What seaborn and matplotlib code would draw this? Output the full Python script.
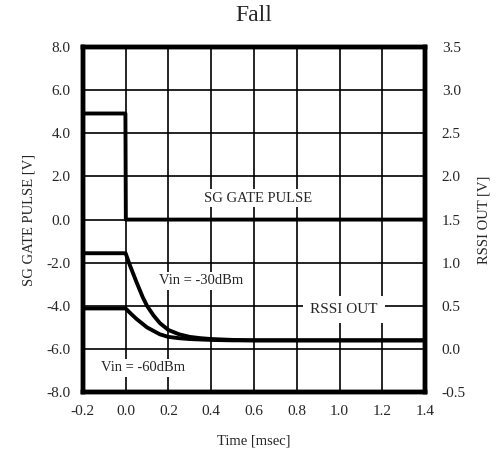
import numpy as np
import pandas as pd
import seaborn as sns
import matplotlib.pyplot as plt

# SG gate pulse (left axis, V)
gate_t = [-0.2, -0.001, 0.0, 0.001, 1.4]
gate_v = [4.92, 4.92, 2.5, 0.0, 0.0]

# RSSI out (right axis, V)
rssi_t = [-0.2, 0.0, 0.02, 0.05, 0.08, 0.1, 0.13, 0.16, 0.2, 0.25, 0.3, 0.35, 0.4, 0.5, 0.6, 0.8, 1.0, 1.2, 1.4]
rssi_30 = [1.11, 1.11, 0.97, 0.78, 0.60, 0.50, 0.39, 0.30, 0.22, 0.17, 0.14, 0.125, 0.115, 0.105, 0.10, 0.10, 0.10, 0.10, 0.10]
rssi_60 = [0.47, 0.47, 0.42, 0.35, 0.29, 0.25, 0.21, 0.17, 0.14, 0.125, 0.115, 0.11, 0.105, 0.10, 0.10, 0.10, 0.10, 0.10, 0.10]

x_ticks = [-0.2, 0.0, 0.2, 0.4, 0.6, 0.8, 1.0, 1.2, 1.4]
left_ticks = [-8.0, -6.0, -4.0, -2.0, 0.0, 2.0, 4.0, 6.0, 8.0]
right_ticks = [-0.5, 0.0, 0.5, 1.0, 1.5, 2.0, 2.5, 3.0, 3.5]

sns.set_style("white")
plt.rcParams['font.family'] = ['Liberation Serif', 'DejaVu Serif']

fig = plt.figure(figsize=(5.02, 4.57), dpi=100)
ax = fig.add_axes([0.165, 0.142, 0.682, 0.755])
ax2 = ax.twinx()

gate = pd.DataFrame({"t": gate_t, "v": gate_v})
rssi = pd.DataFrame({"t": rssi_t, "a": rssi_30, "b": rssi_60})

sns.lineplot(data=gate, x="t", y="v", ax=ax, color="black", lw=2.8)
sns.lineplot(data=rssi, x="t", y="a", ax=ax2, color="black", lw=2.8)
sns.lineplot(data=rssi, x="t", y="b", ax=ax2, color="black", lw=2.8)

ax.set_xlim(-0.2, 1.4)
ax.set_ylim(-8, 8)
ax2.set_ylim(-0.5, 3.5)
ax.set_xticks(x_ticks)
ax.set_xticklabels([f"{v:.1f}" for v in x_ticks])
ax.set_yticks(left_ticks)
ax.set_yticklabels([f"{v:.1f}" for v in left_ticks])
ax2.set_yticks(right_ticks)
ax2.set_yticklabels([f"{v:.1f}" for v in right_ticks])

ax.grid(True, color="black", lw=1.2)
ax.tick_params(length=0, labelsize=11, pad=9)
ax2.tick_params(length=0, labelsize=11, pad=12)

for a in (ax, ax2):
    for s in a.spines.values():
        s.set_linewidth(3.2)
        s.set_color("black")

ax.set_xlabel("Time [msec]", fontsize=10.5, labelpad=12)
ax.set_ylabel("SG GATE PULSE [V]", fontsize=10.5, labelpad=8)
ax2.set_ylabel("RSSI OUT [V]", fontsize=10.5, labelpad=8)
ax.set_title("Fall", fontsize=17, pad=19)

# labels sit under the traces but over the grid
box = dict(facecolor="white", edgecolor="none", pad=2)
ax2.text(0.62, 1.75, "SG GATE PULSE", fontsize=10.5, ha="center", va="center", bbox=box, zorder=1)
ax2.text(0.355, 0.79, "Vin = -30dBm", fontsize=10.5, ha="center", va="center", bbox=box, zorder=1)
ax2.text(1.02, 0.455, "RSSI OUT", fontsize=11, ha="center", va="center",
         bbox=dict(facecolor="white", edgecolor="none", pad=5), zorder=1)
ax2.text(0.08, -0.22, "Vin = -60dBm", fontsize=10.5, ha="center", va="center", bbox=box, zorder=1)

fig.savefig("out.png", dpi=100)
